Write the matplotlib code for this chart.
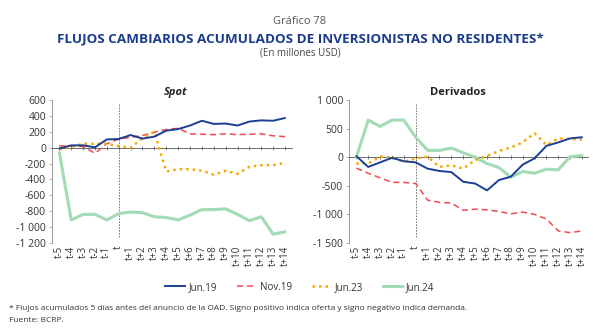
import matplotlib
matplotlib.use("Agg")
import matplotlib.pyplot as plt
from matplotlib.lines import Line2D
from matplotlib.ticker import FuncFormatter, MultipleLocator

plt.rcParams['font.family'] = ['Open Sans', 'DejaVu Sans']

categories = ["t-5", "t-4", "t-3", "t-2", "t-1", "t", "t+1", "t+2", "t+3", "t+4",
              "t+5", "t+6", "t+7", "t+8", "t+9", "t+10", "t+11", "t+12", "t+13", "t+14"]
series_names = ["Jun.19", "Nov.19", "Jun.23", "Jun.24"]

spot_jun19 = [-10, 30, 30, 5, 105, 110, 160, 115, 140, 215, 235, 280, 340, 300, 305, 280, 330, 345, 340, 375]
spot_nov19 = [25, 20, 15, -70, 50, 110, 130, 155, 195, 230, 245, 175, 170, 165, 175, 165, 170, 175, 150, 140]
spot_jun23 = [-20, 10, 50, 50, 50, 20, 0, 120, 200, -300, -270, -270, -290, -340, -290, -330, -240, -220, -220, -190]
spot_jun24 = [-60, -910, -840, -840, -910, -830, -810, -820, -870, -880, -910, -850, -780, -780, -770, -840, -920, -870, -1090, -1060]

der_jun19 = [20, -170, -90, -10, -70, -90, -200, -240, -260, -430, -460, -580, -400, -340, -130, -20, 200, 260, 330, 350]
der_nov19 = [-190, -280, -360, -440, -440, -460, -750, -790, -800, -930, -910, -920, -950, -990, -960, -1000, -1080, -1290, -1320, -1290]
der_jun23 = [-110, -110, 10, 0, -80, -20, 10, -170, -140, -200, -50, 20, 110, 170, 260, 420, 210, 330, 320, 310]
der_jun24 = [0, 650, 540, 650, 650, 350, 120, 120, 160, 80, 0, -110, -180, -350, -250, -280, -210, -220, 10, 30]

styles = [
    dict(color="#1c3f94", lw=1.4, ls="-"),
    dict(color="#ee4a50", lw=1.1, ls=(0, (4, 2.5))),
    dict(color="#f7a800", lw=1.8, ls=(0, (1, 1.6))),
    dict(color="#a2dcb4", lw=2.2, ls="-"),
]

fig = plt.figure(figsize=(6.0, 3.36), dpi=100)

def fmt(v, pos):
    v = int(round(v))
    s = f"{abs(v):,}".replace(",", " ")
    return ("-" if v < 0 else "") + s

def draw(ax, data, ylim, step, xmax):
    x = list(range(len(categories)))
    order = [3, 1, 2, 0]
    for i in order:
        ax.plot(x, data[i], solid_capstyle="round", dash_capstyle="butt",
                zorder=3 + (i != 3), **styles[i])
    ax.set_xlim(-0.6, xmax)
    ax.set_ylim(*ylim)
    ax.yaxis.set_major_locator(MultipleLocator(step))
    ax.yaxis.set_major_formatter(FuncFormatter(fmt))
    for s in ["top", "right"]:
        ax.spines[s].set_visible(False)
    ax.spines["left"].set_color("#888888")
    ax.spines["left"].set_linewidth(0.6)
    ax.spines["bottom"].set_position(("data", 0))
    ax.spines["bottom"].set_color("#555555")
    ax.spines["bottom"].set_linewidth(0.6)
    ax.set_xticks(x)
    ax.tick_params(axis="x", which="both", direction="inout", length=3, width=0.5,
                   color="#555555", labelbottom=False)
    ax.tick_params(axis="y", direction="out", length=2.5, width=0.5, color="#888888",
                   labelsize=7.5, labelcolor="#333333", pad=2)
    sec = ax.secondary_xaxis("bottom")
    sec.set_xticks(x)
    sec.set_xticklabels(categories, rotation=90, fontsize=7, color="#333333")
    sec.tick_params(length=0, pad=2)
    sec.spines["bottom"].set_visible(False)
    ax.axvline(5, ymin=0.04, ymax=0.98, color="#666666", lw=0.6, ls=(0, (2, 1.5)), zorder=2)

ax1 = fig.add_axes([0.087, 0.277, 0.40, 0.425])
draw(ax1, [spot_jun19, spot_nov19, spot_jun23, spot_jun24], (-1200, 600), 200, 19.6)
ax2 = fig.add_axes([0.582, 0.277, 0.398, 0.425])
draw(ax2, [der_jun19, der_nov19, der_jun23, der_jun24], (-1500, 1000), 500, 19.5)

fig.text(0.5, 0.935, "Gráfico 78", ha="center", va="center", fontsize=8, color="#555555")
fig.text(0.5, 0.885, "FLUJOS CAMBIARIOS ACUMULADOS DE INVERSIONISTAS NO RESIDENTES*",
         ha="center", va="center", fontsize=9.7, fontweight="bold", color="#1a3a8c")
fig.text(0.5, 0.842, "(En millones USD)", ha="center", va="center", fontsize=7, color="#444444")
fig.text(0.292, 0.726, "Spot", ha="center", va="center", fontsize=8, fontweight="bold",
         fontstyle="italic", color="#222222")
fig.text(0.763, 0.726, "Derivados", ha="center", va="center", fontsize=8, fontweight="bold",
         color="#222222")

handles = [Line2D([], [], **st) for st in styles]
fig.legend(handles, series_names, loc="center", bbox_to_anchor=(0.5, 0.145), ncol=4,
           frameon=False, fontsize=7, handlelength=2.0, handletextpad=0.4, columnspacing=2.0,
           labelcolor="#333333")

fig.text(0.015, 0.083, "* Flujos acumulados 5 días antes del anuncio de la OAD. Signo positivo indica oferta y signo negativo indica demanda.",
         ha="left", va="center", fontsize=6.0, color="#333333")
fig.text(0.015, 0.045, "Fuente: BCRP.", ha="left", va="center", fontsize=6.0, color="#333333")

fig.savefig("out.png", dpi=100)
